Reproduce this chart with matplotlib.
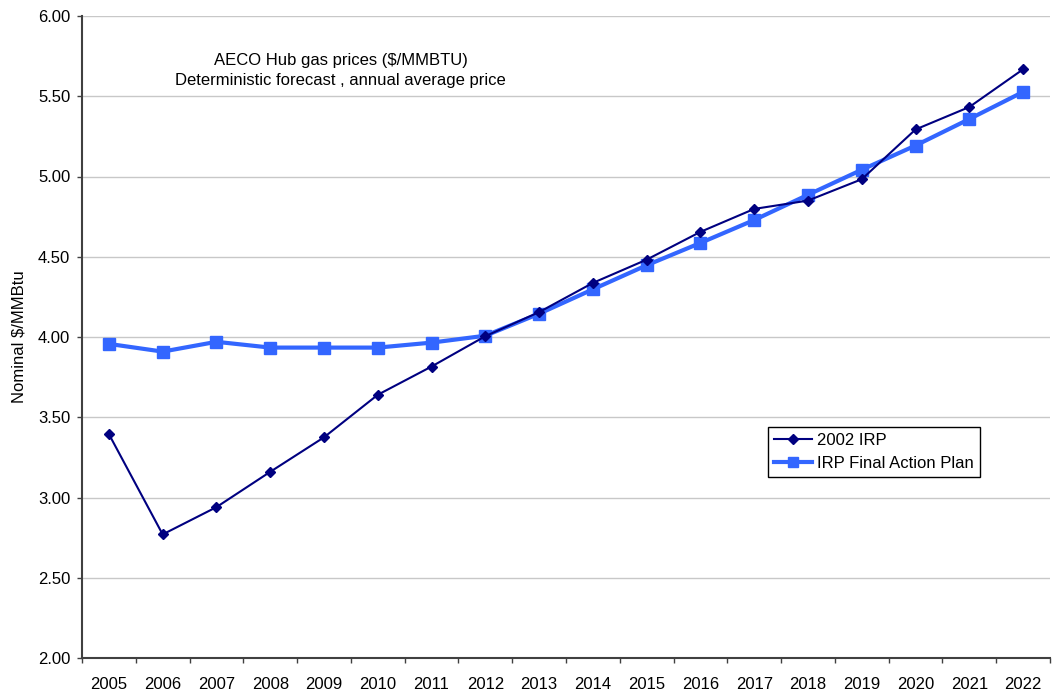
import matplotlib
matplotlib.use("Agg")
import matplotlib.pyplot as plt
from matplotlib.ticker import FixedLocator, NullFormatter, FixedFormatter

plt.rcParams['font.family'] = ['Liberation Sans', 'DejaVu Sans']

years = [str(y) for y in range(2005, 2023)]
irp_2002 = [3.395, 2.77, 2.94, 3.16, 3.375, 3.64, 3.816, 4.005, 4.155,
            4.337, 4.482, 4.655, 4.798, 4.85, 4.983, 5.293, 5.433, 5.668]
final_plan = [3.957, 3.909, 3.97, 3.934, 3.934, 3.934, 3.965, 4.008, 4.145,
              4.297, 4.447, 4.586, 4.729, 4.886, 5.042, 5.193, 5.358, 5.527]
y_ticks = [2.0, 2.5, 3.0, 3.5, 4.0, 4.5, 5.0, 5.5, 6.0]

fig = plt.figure(figsize=(10.54, 6.92), dpi=100)
ax = fig.add_axes([82 / 1054, 34 / 692, 968 / 1054, 642 / 692])

x = list(range(len(years)))
ax.plot(x, irp_2002, color='#000080', lw=1.5, marker='D', ms=5.5,
        label='2002 IRP', zorder=4)
ax.plot(x, final_plan, color='#3366FF', lw=3.0, marker='s', ms=9,
        label='IRP Final Action Plan', zorder=3)

ax.set_xlim(-0.5, len(years) - 0.5)
ax.set_ylim(2.0, 6.0)
ax.set_yticks(y_ticks)
ax.set_yticklabels([f"{v:.2f}" for v in y_ticks], fontsize=12)

# category labels centred, tick marks on the boundaries
ax.xaxis.set_major_locator(FixedLocator([i - 0.5 for i in range(len(years) + 1)]))
ax.xaxis.set_major_formatter(NullFormatter())
ax.xaxis.set_minor_locator(FixedLocator(x))
ax.xaxis.set_minor_formatter(FixedFormatter(years))
ax.tick_params(axis='x', which='major', length=3.5, width=1, color='#404040', direction='out')
ax.tick_params(axis='x', which='minor', length=0, labelsize=12, pad=14)
ax.tick_params(axis='y', length=3.5, width=1, color='#404040', direction='out', pad=5)

ax.yaxis.grid(True, color='#c8c8c8', lw=1)
ax.set_axisbelow(True)
for s in ('top', 'right'):
    ax.spines[s].set_visible(False)
for s in ('left', 'bottom'):
    ax.spines[s].set_color('#404040')
    ax.spines[s].set_linewidth(1.5)

ax.set_ylabel('Nominal $/MMBtu', fontsize=12, labelpad=8)

ax.text(0.267, 0.943, 'AECO Hub gas prices ($/MMBTU)\nDeterministic forecast , annual average price',
        transform=ax.transAxes, ha='center', va='top', fontsize=12, linespacing=1.45)

leg = ax.legend(loc='upper left', bbox_to_anchor=(0.709, 0.36), fontsize=12,
                frameon=True, fancybox=False, edgecolor='black', framealpha=1,
                handlelength=2.3, handletextpad=0.3, borderpad=0.35, labelspacing=0.5,
                borderaxespad=0, markerscale=0.85)
leg.get_frame().set_linewidth(1.0)

fig.savefig('out.png', dpi=100)
